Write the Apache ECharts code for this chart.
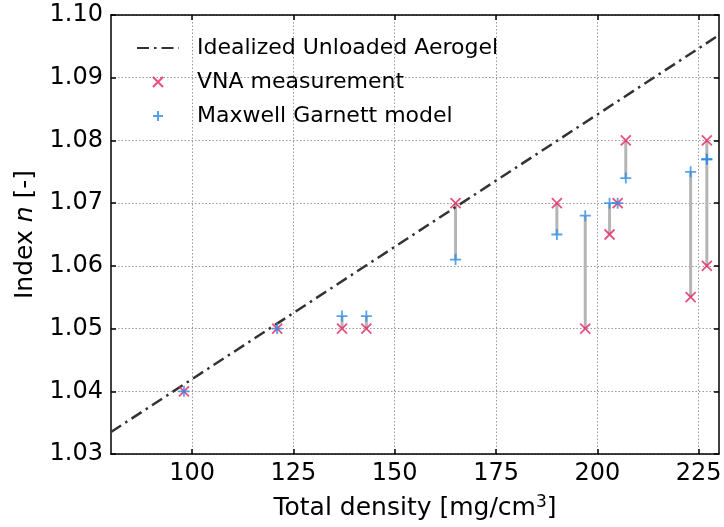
<!DOCTYPE html>
<html>
<head>
<meta charset="utf-8">
<script src="https://cdn.jsdelivr.net/npm/echarts@6/dist/echarts.min.js"></script>
<style>
html, body { margin: 0; padding: 0; background: #fff; }
#chart { width: 724px; height: 527px; }
</style>
</head>
<body>
<div id="chart"></div>
<script>
// data
const density = [98, 121, 137, 143, 165, 190, 197, 203, 205, 207, 223, 227, 227];
const vnaIndex = [1.040, 1.050, 1.050, 1.050, 1.070, 1.070, 1.050, 1.065, 1.070, 1.080, 1.055, 1.080, 1.060];
const mgIndex = [1.040, 1.050, 1.052, 1.052, 1.061, 1.065, 1.068, 1.070, 1.070, 1.074, 1.075, 1.077, 1.077];
const idealLine = [[80, 1.0335], [230, 1.0968]];
const xTicks = [100, 125, 150, 175, 200, 225];
const yTicks = [1.03, 1.04, 1.05, 1.06, 1.07, 1.08, 1.09, 1.10];

const FONT = 'DejaVu Sans';
const RED = '#e3235e';
const BLUE = '#2a8de6';

const chart = echarts.init(document.getElementById('chart'));

const vnaData = density.map((d, i) => [d, vnaIndex[i]]);
const mgData = density.map((d, i) => [d, mgIndex[i]]);
const segments = density.map((d, i) => [d, vnaIndex[i], mgIndex[i]]);

const crossPath = 'path://M0,0L10,10M10,0L0,10';
const plusPath = 'path://M5,0L5,10M0,5L10,5';

const tickStyle = { show: true, inside: true, length: 5, lineStyle: { color: '#000', width: 1.5 } };
const spine = { show: true, onZero: false, lineStyle: { color: '#000', width: 1.5 } };
const gridLine = { show: true, lineStyle: { color: '#999', width: 1, type: [1.5, 2] } };

const option = {
    animation: false,
    backgroundColor: '#fff',
    grid: { left: 111, right: 5, top: 15, bottom: 73, containLabel: false, outerBoundsMode: 'none' },
    legend: {
        orient: 'vertical',
        left: 131,
        top: 32,
        itemWidth: 42,
        itemHeight: 10,
        itemGap: 12,
        data: [
            { name: 'Idealized Unloaded Aerogel', itemStyle: { opacity: 0 } },
            'VNA measurement',
            'Maxwell Garnett model'
        ],
        textStyle: { fontFamily: FONT, fontSize: 22, color: '#000', padding: [0, 0, 0, 13] }
    },
    xAxis: [{
        type: 'value', min: 80, max: 230,
        name: 'Total density [mg/cm{sup|3}]',
        nameLocation: 'middle', nameGap: 40,
        nameTextStyle: {
            fontFamily: FONT, fontSize: 25, color: '#000',
            rich: { sup: { fontFamily: FONT, fontSize: 17, color: '#000', verticalAlign: 'top', padding: [0, 0, 12, 0] } }
        },
        axisLine: spine,
        axisTick: Object.assign({ customValues: xTicks }, tickStyle),
        axisLabel: { customValues: xTicks, fontFamily: FONT, fontSize: 24, color: '#000', margin: 8 },
        splitLine: gridLine
    }, {
        type: 'value', min: 80, max: 230, position: 'top',
        axisLine: spine,
        axisTick: Object.assign({ customValues: xTicks }, tickStyle),
        axisLabel: { show: false },
        splitLine: { show: false }
    }],
    yAxis: [{
        type: 'value', min: 1.03, max: 1.10,
        name: 'Index {it|n} [-]',
        nameLocation: 'middle', nameGap: 73, nameRotate: 90,
        nameTextStyle: {
            fontFamily: FONT, fontSize: 25, color: '#000',
            rich: { it: { fontFamily: FONT, fontSize: 25, fontStyle: 'italic', color: '#000' } }
        },
        axisLine: spine,
        axisTick: Object.assign({ customValues: yTicks }, tickStyle),
        axisLabel: {
            customValues: yTicks, fontFamily: FONT, fontSize: 24, color: '#000', margin: 8,
            formatter: v => v.toFixed(2)
        },
        splitLine: gridLine
    }, {
        type: 'value', min: 1.03, max: 1.10, position: 'right',
        axisLine: spine,
        axisTick: Object.assign({ customValues: yTicks }, tickStyle),
        axisLabel: { show: false },
        splitLine: { show: false }
    }],
    series: [{
        name: 'Idealized Unloaded Aerogel',
        type: 'line',
        data: idealLine,
        symbol: 'none',
        z: 3,
        itemStyle: { color: '#333' },
        lineStyle: { color: '#333', width: 2.5, type: [12, 5, 2.5, 5] }
    }, {
        name: 'gap',
        type: 'custom',
        data: segments,
        encode: { x: 0, y: [1, 2] },
        z: 2,
        renderItem: (params, api) => {
            const p1 = api.coord([api.value(0), api.value(1)]);
            const p2 = api.coord([api.value(0), api.value(2)]);
            return {
                type: 'line',
                shape: { x1: p1[0], y1: p1[1], x2: p2[0], y2: p2[1] },
                style: { stroke: '#b5b5b5', lineWidth: 3 }
            };
        }
    }, {
        name: 'VNA measurement',
        type: 'scatter',
        data: vnaData,
        symbol: crossPath,
        symbolSize: 10,
        z: 5,
        itemStyle: { color: 'none', borderColor: RED, borderWidth: 1.8 }
    }, {
        name: 'Maxwell Garnett model',
        type: 'scatter',
        data: mgData,
        symbol: plusPath,
        symbolSize: 11,
        z: 6,
        itemStyle: { color: 'none', borderColor: BLUE, borderWidth: 1.8 }
    }]
};

chart.setOption(option);
</script>
</body>
</html>
